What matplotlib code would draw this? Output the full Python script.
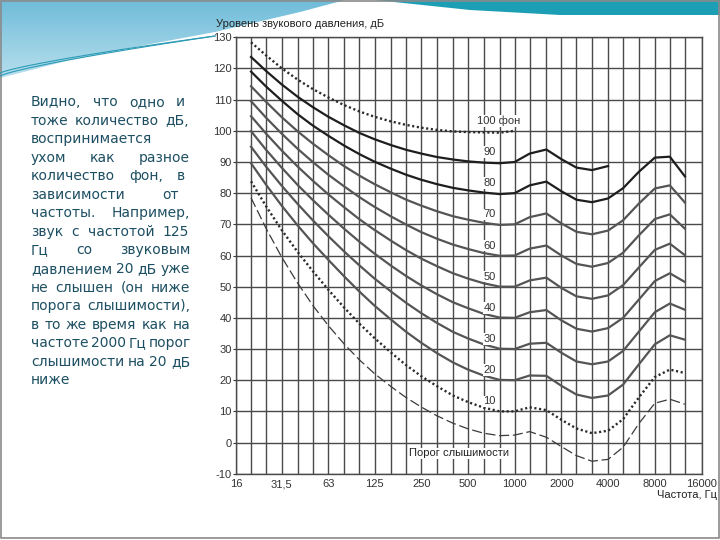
import numpy as np
import matplotlib
matplotlib.use('Agg')
import matplotlib.pyplot as plt
from matplotlib.patches import Polygon, Rectangle
from matplotlib.ticker import FixedLocator, NullLocator

plt.rcParams['font.family'] = ['Liberation Sans', 'DejaVu Sans']
plt.rcParams['axes.unicode_minus'] = False

# 1/3-octave frequencies, Hz
freqs = [20, 25, 31.5, 40, 50, 63, 80, 100, 125, 160, 200, 250, 315, 400, 500,
         630, 800, 1000, 1250, 1600, 2000, 2500, 3150, 4000, 5000, 6300, 8000,
         10000, 12500]

# equal-loudness curves, dB
phon_100 = [128.4, 124.2, 120.1, 116.4, 113.4, 110.7, 108.2, 106.2, 104.5, 103.0,
            101.9, 101.0, 100.3, 99.8, 99.6, 99.5, 99.4, 100.0]
phon_90 = [123.7, 119.2, 114.9, 110.9, 107.6, 104.5, 101.7, 99.3, 97.3, 95.4, 93.9,
           92.7, 91.6, 90.8, 90.2, 89.8, 89.6, 90.0, 92.7, 94.0, 90.9, 88.2, 87.4, 88.7]
phon_80 = [119.0, 114.2, 109.7, 105.3, 101.7, 98.4, 95.2, 92.5, 90.1, 87.8, 85.9, 84.3,
           82.9, 81.7, 80.9, 80.2, 79.7, 80.0, 82.5, 83.7, 80.6, 77.9, 77.1, 78.3, 81.6,
           86.8, 91.4, 91.7, 85.4]
phon_70 = [114.3, 109.3, 104.4, 99.8, 95.9, 92.2, 88.6, 85.6, 82.9, 80.2, 77.9, 76.0,
           74.2, 72.6, 71.5, 70.5, 69.8, 70.0, 72.3, 73.5, 70.3, 67.6, 66.8, 68.0, 71.3,
           76.6, 81.5, 82.5, 77.0]
phon_60 = [109.5, 104.2, 99.1, 94.2, 90.0, 85.9, 82.1, 78.7, 75.6, 72.5, 69.9, 67.5,
           65.4, 63.5, 62.1, 60.8, 59.9, 60.0, 62.2, 63.2, 60.0, 57.3, 56.4, 57.6, 60.9,
           66.4, 71.7, 73.2, 68.6]
phon_50 = [104.7, 99.1, 93.7, 88.5, 84.0, 79.6, 75.4, 71.6, 68.2, 64.7, 61.7, 59.0,
           56.6, 54.3, 52.6, 51.1, 50.0, 50.0, 52.0, 52.9, 49.6, 46.9, 46.1, 47.2, 50.5,
           56.1, 61.8, 63.8, 60.1]
phon_40 = [99.9, 93.9, 88.2, 82.6, 77.8, 73.1, 68.5, 64.4, 60.6, 56.7, 53.4, 50.4,
           47.6, 45.0, 43.1, 41.3, 40.1, 40.0, 41.8, 42.5, 39.2, 36.5, 35.6, 36.7, 40.0,
           45.8, 51.8, 54.3, 51.5]
phon_30 = [94.9, 88.5, 82.4, 76.5, 71.3, 66.2, 61.2, 56.8, 52.6, 48.4, 44.8, 41.5,
           38.4, 35.5, 33.4, 31.5, 30.1, 30.0, 31.7, 32.0, 28.8, 26.0, 25.1, 26.0, 29.4,
           35.5, 41.8, 44.6, 42.6]
phon_20 = [89.6, 82.7, 76.0, 69.6, 64.0, 58.6, 53.2, 48.4, 43.9, 39.4, 35.5, 32.0,
           28.7, 25.7, 23.4, 21.5, 20.1, 20.0, 21.5, 21.4, 18.2, 15.4, 14.3, 15.1, 18.6,
           25.0, 31.5, 34.4, 33.0]
phon_10 = [83.8, 75.8, 68.2, 61.1, 55.0, 49.0, 43.2, 38.1, 33.5, 28.8, 24.8, 21.3,
           18.1, 15.1, 13.0, 11.2, 10.0, 10.0, 11.3, 10.4, 7.3, 4.5, 3.0, 3.8, 7.5,
           14.4, 21.0, 23.4, 22.3]
threshold = [78.5, 68.7, 59.5, 51.1, 44.0, 37.5, 31.5, 26.5, 22.1, 17.9, 14.4, 11.4,
             8.6, 6.2, 4.4, 3.0, 2.2, 2.4, 3.5, 1.7, -1.3, -4.2, -6.0, -5.4, -1.5,
             6.0, 12.6, 13.9, 12.3]

grid_freqs = [16] + freqs + [16000]
tick_freqs = [16, 31.5, 63, 125, 250, 500, 1000, 2000, 4000, 8000, 16000]
tick_labels = ['16', '31,5', '63', '125', '250', '500', '1000', '2000', '4000',
               '8000', '16000']
curve_labels = ['90', '80', '70', '60', '50', '40', '30', '20', '10']

para_lines = ['Видно, что одно и', 'тоже количество дБ,', 'воспринимается',
              'ухом как разное', 'количество фон, в', 'зависимости от',
              'частоты. Например,', 'звук с частотой 125', 'Гц со звуковым',
              'давлением 20 дБ уже', 'не слышен (он ниже', 'порога слышимости),',
              'в то же время как на', 'частоте 2000 Гц порог', 'слышимости на 20 дБ',
              'ниже']
para_right = [185, 189, None, 190, 185, 179, 190, 189, 190, 190, 190, 190, 190, 190,
              190, None]

fig = plt.figure(figsize=(7.2, 5.4), dpi=100)

# slide background / decoration in pixel coords
bg = fig.add_axes([0, 0, 1, 1], zorder=0)
bg.set_xlim(0, 720)
bg.set_ylim(540, 0)
bg.axis('off')

blue = Polygon([(0, 0), (345, 0), (300, 12), (215, 32), (140, 46), (70, 60), (0, 78)],
               closed=True, facecolor='none', edgecolor='none')
bg.add_patch(blue)
grad = np.linspace(0, 1, 100).reshape(-1, 1)
im = bg.imshow(grad, extent=[0, 360, 80, 0], cmap=matplotlib.colors.LinearSegmentedColormap.from_list(
    'b', ['#6fbcd9', '#b9e0ee']), aspect='auto', zorder=0)
im.set_clip_path(blue)
bg.add_patch(Polygon([(375, 0), (720, 0), (720, 15), (560, 15), (470, 10)],
                     closed=True, facecolor='#1c9fb4', edgecolor='none'))
xs = np.linspace(0, 215, 50)
bg.plot(xs, 76 - 40 * (xs / 215) ** 0.8, color='#2b9bb5', lw=0.8)
bg.plot(xs, 73 - 37 * (xs / 215) ** 0.8, color='#2b9bb5', lw=0.8)
bg.add_patch(Rectangle((0.5, 0.5), 718, 537.5, fill=False, edgecolor='#8a8a8a', lw=1.2))

# justified paragraph on the left
renderer = fig.canvas.get_renderer()
x_left = 31
for i, line in enumerate(para_lines):
    y = 106 + i * 18.55
    words = line.split(' ')
    ts = [bg.text(0, y, w, fontsize=10, color='#1d4f62', family='DejaVu Sans',
                  ha='left', va='baseline') for w in words]
    widths = [t.get_window_extent(renderer).width for t in ts]
    if para_right[i] is None or len(words) == 1:
        gap = 4.2
    else:
        gap = max(2.5, (para_right[i] - x_left - sum(widths)) / (len(words) - 1))
    x = x_left
    for t, w in zip(ts, widths):
        t.set_x(x)
        x += w + gap

bg.text(215.7, 24, 'Уровень звукового давления, дБ', fontsize=8, color='#222222',
        ha='left', va='center')
bg.text(717, 495, 'Частота, Гц', fontsize=8, color='#222222', ha='right', va='center')

# chart
ax = fig.add_axes([236 / 720, 1 - 473.7 / 540, 465.5 / 720, 436.4 / 540], zorder=2)
ax.set_xscale('log')
ax.set_xlim(16, 16000)
ax.set_ylim(-10, 130)
ax.xaxis.set_major_locator(FixedLocator(tick_freqs))
ax.set_xticklabels(tick_labels)
ax.xaxis.set_minor_locator(NullLocator())
ax.set_yticks(range(-10, 131, 10))
for f in grid_freqs:
    ax.axvline(f, color='#4a4a4a', lw=1.0, zorder=1)
for v in range(-10, 131, 10):
    ax.axhline(v, color='#4a4a4a', lw=1.0, zorder=1)
for s in ax.spines.values():
    s.set_color('#4a4a4a')
    s.set_linewidth(1.0)
ax.tick_params(axis='y', length=2, width=0.8, pad=1, labelsize=8, colors='#333333')
ax.tick_params(axis='x', length=0, pad=4, labelsize=8, colors='#333333')

ax.plot(freqs[:18], phon_100, color='#2a2a2a', lw=1.7, ls=(0, (0.9, 1.1)), zorder=3)
ax.plot(freqs[:24], phon_90, color='#1e1e1e', lw=1.6, zorder=3)
ax.plot(freqs, phon_80, color='#1e1e1e', lw=1.6, zorder=3)
for vals in [phon_70, phon_60, phon_50, phon_40, phon_30, phon_20]:
    ax.plot(freqs, vals, color='#555555', lw=1.6, zorder=3)
ax.plot(freqs, phon_10, color='#2a2a2a', lw=1.7, ls=(0, (0.9, 1.1)), zorder=3)
ax.plot(freqs, threshold, color='#3a3a3a', lw=0.9, ls=(0, (8, 3)), zorder=3)

box = dict(facecolor='white', edgecolor='none', pad=0.6)
ax.text(570, 103.2, '100 фон', fontsize=8, color='#333333', ha='left', va='center',
        bbox=box, zorder=4)
for k, lab in enumerate(curve_labels):
    ax.text(690, int(lab) + 3.2, lab, fontsize=8, color='#333333', ha='center',
            va='center', bbox=box, zorder=4)
ax.text(207, -3.5, 'Порог слышимости', fontsize=8, color='#222222', ha='left',
        va='center', bbox=box, zorder=4)

fig.savefig('out.png', dpi=100)
